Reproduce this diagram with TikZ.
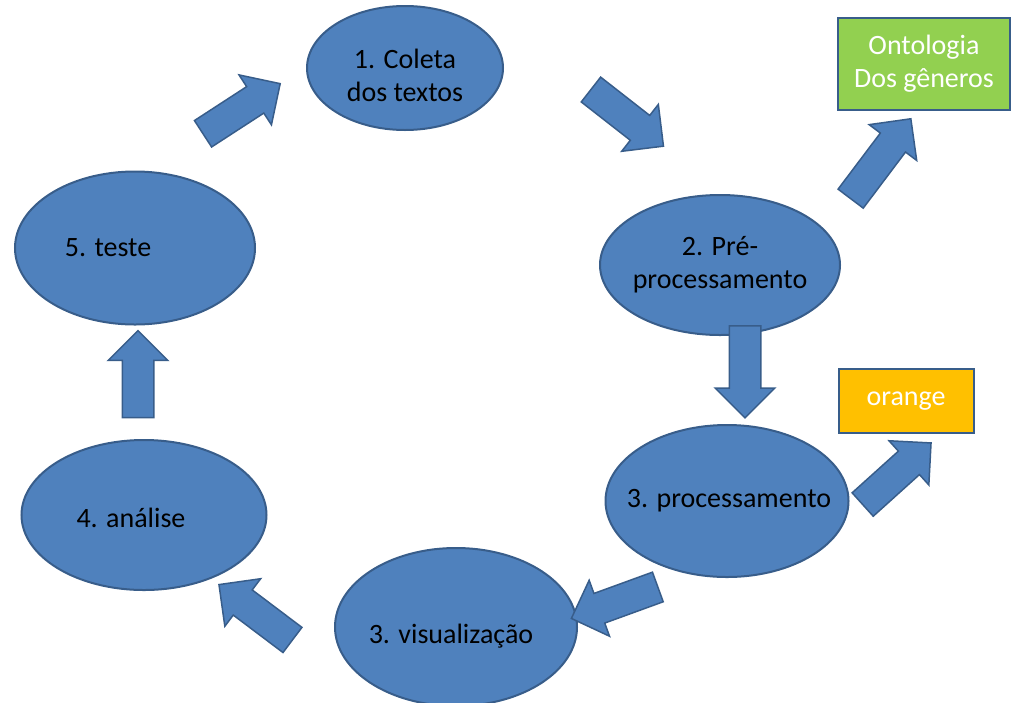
\documentclass[tikz,border=0pt]{standalone}
\usepackage{fontspec}
\setmainfont{Carlito}
\usetikzlibrary{shapes.geometric,shapes.arrows}
\definecolor{stepblue}{HTML}{4F81BD}
\definecolor{stepline}{HTML}{385D8A}
\definecolor{boxgreen}{HTML}{92D050}
\definecolor{boxorange}{HTML}{FFC000}
\begin{document}
\begin{tikzpicture}[x=1pt,y=-1pt,font=\fontsize{28}{33}\selectfont,
    phase/.style={ellipse,draw=stepline,fill=stepblue,line width=2pt,inner sep=0pt},
    flow/.style={single arrow,draw=stepline,fill=stepblue,line width=1.5pt,minimum height=#1,
      inner xsep=0pt,inner ysep=15pt,single arrow head extend=14pt,single arrow head indent=0pt},
    flow/.default=92pt,
    tag/.style={rectangle,draw=stepline,line width=2pt,text=white,align=center,inner sep=0pt}
  ]
  \useasboundingbox (0,0) rectangle (1011,702);
  % the cycle
  \node[phase,minimum width=196pt,minimum height=124pt,label={[align=center,yshift=-7pt]center:1. Coleta\\dos textos}] (e1) at (405,68) {};
  \node[phase,minimum width=240pt,minimum height=140pt,label={[align=center]center:2. Pré-\\processamento}] (e2) at (720,265) {};
  \node[phase,minimum width=243pt,minimum height=152pt,label={[xshift=2pt]center:3. processamento}] (e3) at (727,501) {};
  \node[phase,minimum width=242pt,minimum height=158pt,label={[xshift=-5pt,yshift=-9pt]center:3. visualização}] (e6) at (456,627) {};
  \node[phase,minimum width=245pt,minimum height=150pt,label={[xshift=-13pt,yshift=-3pt]center:4. análise}] (e4) at (144,515) {};
  \node[phase,minimum width=240pt,minimum height=153pt,label={[xshift=-27pt]center:5. teste}] (e5) at (135,248) {};
  % outputs
  \node[tag,fill=boxgreen,minimum width=172pt,minimum height=92pt] (ont) at (924,64) {Ontologia\\Dos gêneros};
  \node[tag,fill=boxorange,minimum width=135pt,minimum height=64pt] (org) at (906,401) {orange};
  % block arrows
  \node[flow,rotate=33] (a51) at (235,113) {};
  \node[flow,rotate=-38] (a12) at (621,113) {};
  \node[flow=100pt,rotate=53] (a2o) at (876,165) {};
  \node[flow,rotate=-90] (a23) at (745,364) {};
  \node[flow,rotate=42] (a3o) at (891,479) {};
  \node[flow,rotate=200] (a36) at (622,600) {};
  \node[flow,rotate=143] (a64) at (262,617) {};
  \node[flow=87pt,rotate=90] (a45) at (138,382) {};
\end{tikzpicture}
\end{document}
